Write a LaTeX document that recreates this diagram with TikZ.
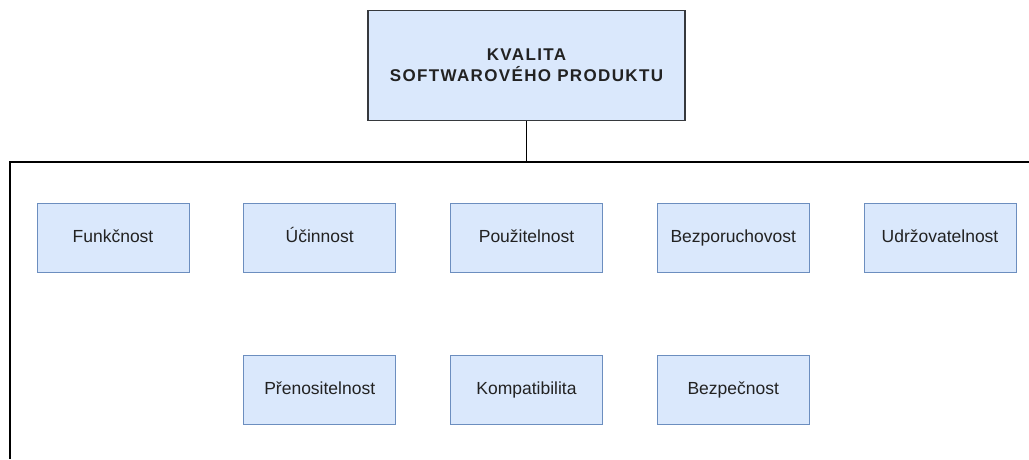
\documentclass[tikz,border=0pt]{standalone}
\usepackage{fontspec}
\setmainfont{Liberation Sans}
\newfontfamily\rootfont[LetterSpace=8]{Liberation Sans}
\usetikzlibrary{positioning}
\definecolor{boxfill}{HTML}{DAE8FC}
\definecolor{boxline}{HTML}{6C8EBF}
\definecolor{rootline}{HTML}{36393D}
\definecolor{textgray}{HTML}{222222}
\tikzset{
  quality/.style={draw=boxline, fill=boxfill, line width=1pt, minimum width=152pt, minimum height=69pt, inner sep=0pt, text height=13pt, text depth=3pt, text=textgray, font=\fontsize{17.5}{21}\selectfont},
  root/.style={draw=rootline, fill=boxfill, line width=1.5pt, minimum width=317pt, minimum height=110pt, align=center, text=textgray, font=\rootfont\bfseries\fontsize{17}{21}\selectfont}
}
\begin{document}
\begin{tikzpicture}[x=1pt, y=-1pt, node distance=82pt and 53.75pt]
                \useasboundingbox (0,0) rectangle (1029,459);
                \node[root] (K) at (526.5,65.5) {KVALITA\\SOFTWAROVÉHO PRODUKTU};

                \node[quality] (F) at (113,237.5) {Funkčnost};
                \node[quality, right=of F] (U) {Účinnost};
                \node[quality, right=of U] (P) {Použitelnost};
                \node[quality, right=of P] (B) {Bezporuchovost};
                \node[quality, right=of B] (D) {Udržovatelnost};
                \node[quality, below=of U] (N) {Přenositelnost};
                \node[quality, below=of P] (C) {Kompatibilita};
                \node[quality, below=of B] (S) {Bezpečnost};

                \coordinate (L) at (10,162);
                \coordinate (R) at (1029,162);
                \coordinate (E) at (10,459);
                \draw[line width=1.5pt] (K.south) -- (K.south |- L);
                \draw[line width=1.5pt] (R) -- (L) -- (E);
            \end{tikzpicture}
\end{document}
